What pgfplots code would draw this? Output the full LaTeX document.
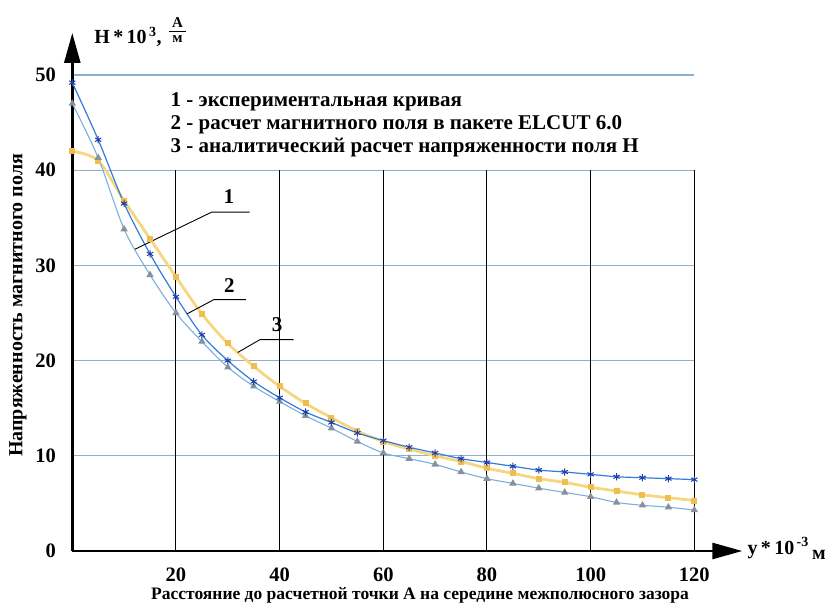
\documentclass[border=0pt]{standalone}
\usepackage{fontspec}
\setmainfont{Liberation Serif}
\usepackage{pgfplots}
\pgfplotsset{compat=1.18}
\usetikzlibrary{arrows.meta}

\definecolor{elcut}{RGB}{50,125,220}
\definecolor{elcutmark}{RGB}{30,60,170}
\definecolor{expline}{RGB}{125,175,222}
\definecolor{expmark}{RGB}{135,145,155}
\definecolor{anline}{RGB}{245,215,130}
\definecolor{anmark}{RGB}{240,190,80}
\definecolor{hgrid}{RGB}{140,175,210}

\begin{document}
\begin{tikzpicture}
\bfseries
% page size = reference size, origin of the axis at (72,551) px
\path[use as bounding box] (-72.3pt,-57pt) rectangle (761.7pt,551pt);
\begin{axis}[
    scale only axis,
    width=622pt, height=476pt,
    xmin=0, xmax=120, ymin=0, ymax=50,
    axis lines=left,
    axis line style={line width=2.6pt, black},
    x axis line style={-{Triangle[length=30pt,width=16pt]}, shorten >=-48pt},
    y axis line style={-{Triangle[length=30pt,width=16pt]}, shorten >=-42pt},
    xtick={20,40,60,80,100,120},
    ytick={0,10,20,30,40,50},
    major tick length=0pt,
    ymajorgrids,
    grid style={hgrid, line width=1.1pt},
    tick label style={font=\fontsize{20.5}{22}\selectfont\bfseries},
    /pgf/number format/assume math mode=true,
    yticklabel style={xshift=-13pt},
    xticklabel style={yshift=-13pt},
    clip=false,
]
% vertical grid lines stop at 40
\foreach \xx in {20,40,60,80,100,120}{
  \edef\tmp{\noexpand\draw[black, line width=1pt] (axis cs:\xx,0) -- (axis cs:\xx,40);}\tmp
}

% 3 - analytic
\addplot[anline, line width=2.8pt, smooth, mark=square*, mark size=1.6pt,
  mark options={anmark, draw=anmark}] coordinates {
(0,42.0)(5,41.0)(10,36.8)(15,32.8)(20,28.8)(25,24.9)(30,21.8)(35,19.4)(40,17.3)
(45,15.5)(50,14.0)(55,12.6)(60,11.5)(65,10.7)(70,10.0)(75,9.4)(80,8.7)(85,8.15)
(90,7.6)(95,7.2)(100,6.7)(105,6.3)(110,5.9)(115,5.6)(120,5.3)
};
% 1 - experimental
\addplot[expline, line width=1.1pt, smooth, mark=triangle*, mark size=3.2pt,
  mark options={expmark, draw=expmark}] coordinates {
(0,47.0)(5,41.3)(10,33.8)(15,29.0)(20,25.0)(25,22.0)(30,19.3)(35,17.3)(40,15.7)
(45,14.2)(50,12.9)(55,11.5)(60,10.3)(65,9.7)(70,9.1)(75,8.3)(80,7.6)(85,7.1)
(90,6.6)(95,6.15)(100,5.7)(105,5.1)(110,4.8)(115,4.6)(120,4.3)
};
% 2 - ELCUT
\addplot[elcut, line width=1.2pt, smooth, mark=asterisk, mark size=3.6pt,
  mark options={elcutmark, line width=1pt}] coordinates {
(0,49.2)(5,43.2)(10,36.5)(15,31.2)(20,26.7)(25,22.7)(30,20.0)(35,17.8)(40,16.1)
(45,14.6)(50,13.5)(55,12.4)(60,11.6)(65,10.9)(70,10.3)(75,9.7)(80,9.3)(85,8.9)
(90,8.5)(95,8.3)(100,8.05)(105,7.8)(110,7.7)(115,7.6)(120,7.5)
};

% legend text
\node[anchor=west, align=left, font=\fontsize{21}{23}\selectfont\bfseries]
  at (axis cs:18.3,44.8) {1 - экспериментальная кривая\\
  2 - расчет магнитного поля в пакете ELCUT 6.0\\
  3 - аналитический расчет напряженности поля Н};

% curve labels with leader lines
\draw[black, line width=0.9pt] (axis cs:12.1,31.7) -- (axis cs:26.9,35.6) -- (axis cs:34.2,35.6);
\node[font=\fontsize{21}{22}\selectfont\bfseries] at (axis cs:30.2,37.2) {1};
\draw[black, line width=0.9pt] (axis cs:22.1,24.9) -- (axis cs:27.3,26.4) -- (axis cs:33.5,26.4);
\node[font=\fontsize{21}{22}\selectfont\bfseries] at (axis cs:30.3,27.9) {2};
\draw[black, line width=0.9pt] (axis cs:31.9,20.85) -- (axis cs:36.2,22.2) -- (axis cs:42.7,22.2);
\node[font=\fontsize{21}{22}\selectfont\bfseries] at (axis cs:39.5,23.8) {3};

% axis titles
\node[anchor=west, font=\fontsize{20}{22}\selectfont\bfseries] at (axis cs:3.6,54.0)
  {H\,*\,10\textsuperscript{\,3},};
\node[font=\fontsize{15}{15}\selectfont\bfseries, inner sep=0pt] at (axis cs:20.3,55.5) {А};
\draw[black, line width=0.9pt] (axis cs:18.6,54.55) -- (axis cs:22.0,54.55);
\node[font=\fontsize{15}{15}\selectfont\bfseries, inner sep=0pt] at (axis cs:20.3,53.75) {м};
\node[anchor=west, font=\fontsize{20}{22}\selectfont\bfseries] at (axis cs:129.6,0.3)
  {y\,*\,10\textsuperscript{\,-3}\,\raisebox{-5pt}{м}};
\node[rotate=90, font=\fontsize{20}{22}\selectfont\bfseries] at (axis cs:-10.5,25.8)
  {Напряженность магнитного поля};
\node[font=\fontsize{17.5}{22}\selectfont\bfseries] at (axis cs:67.1,-4.7)
  {Расстояние до расчетной точки А на середине межполюсного зазора};
\end{axis}
\end{tikzpicture}
\end{document}
